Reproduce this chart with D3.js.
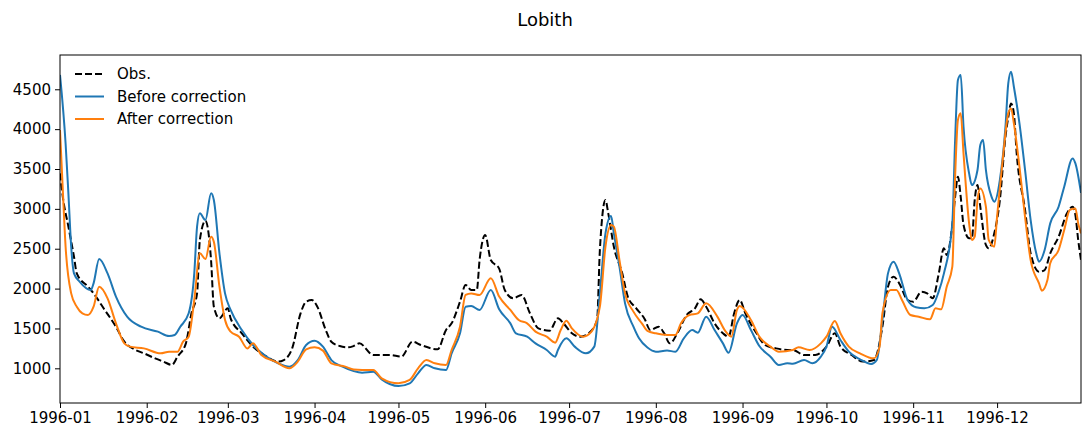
<!DOCTYPE html>
<html>
<head>
<meta charset="utf-8">
<script src="https://cdn.jsdelivr.net/npm/d3@7"></script>
<style>
  html, body { margin: 0; padding: 0; background: #fff; }
  svg { display: block; font-family: "DejaVu Sans", sans-serif; }
</style>
</head>
<body>
<svg id="chart" width="1085" height="430"></svg>
<script>
// Discharge at Lobith, 1996 (m3/s). Day numbers count from 1 January 1996.
const obsDays = [0,1,3,5,6,10,12,16,20,23,27,30,34,37,40,42,45,47,49,50,52,54,55,57,60,61,65,69,73,78,80,83,86,88,90,92,95,97,100,103,105,107,112,118,122,126,129,135,138,140,143,145,147,149,150,152,154,157,159,162,165,168,171,175,178,180,183,186,189,192,193,195,196,198,201,203,206,209,211,214,216,218,221,224,227,229,231,234,237,239,241,243,245,249,252,256,260,262,266,270,274,277,279,283,287,291,294,296,298,300,303,305,308,310,312,314,316,317,319,320,321,322,323,325,326,327,328,329,331,332,334,336,338,339,340,341,342,345,347,350,352,354,357,360,362,363,364,365];
const obsFlow = [3445,3150,2777,2400,2190,2024,1940,1732,1522,1334,1230,1188,1125,1084,1042,1146,1313,1690,1940,2610,2850,2358,1773,1627,1752,1627,1439,1272,1167,1084,1104,1250,1690,1836,1857,1773,1480,1334,1280,1263,1280,1313,1167,1167,1146,1334,1293,1238,1480,1564,1836,2045,1982,1982,2358,2672,2358,2250,1982,1878,1920,1690,1501,1472,1627,1564,1439,1397,1439,1606,2484,3111,2944,2526,2191,1898,1752,1620,1480,1522,1439,1313,1460,1669,1752,1865,1773,1564,1439,1397,1690,1857,1690,1439,1293,1250,1230,1230,1167,1167,1272,1439,1272,1167,1084,1104,1522,2024,2150,2066,1857,1836,1961,1940,1878,2160,2505,2421,2800,3150,3403,3150,2800,2630,2630,3111,3299,3027,2547,2505,2693,3111,3905,4150,4323,4198,3700,2986,2442,2212,2233,2442,2651,2944,3027,2923,2610,2358];

const beforeDays = [0,2,3,4,5,7,11,12,14,17,20,24,29,35,39,41,43,46,48,49,50,52,54,55,57,59,61,65,69,73,78,82,85,88,91,94,97,101,105,108,112,115,121,125,128,131,134,138,140,143,145,147,150,154,157,161,163,167,170,174,177,178,181,184,188,191,193,195,197,198,200,202,205,207,210,213,217,220,223,226,228,231,234,237,239,242,244,247,250,254,257,260,262,266,269,272,274,276,279,282,286,290,292,294,296,298,300,303,306,309,312,314,316,319,320,321,322,323,325,326,328,329,330,331,333,334,336,338,339,340,341,343,345,347,349,350,352,354,357,359,362,363,365];
const beforeFlow = [4680,3820,3195,2525,2190,2087,1982,2066,2370,2190,1900,1648,1522,1460,1405,1418,1522,1690,2190,2776,2944,2860,3195,3111,2442,1940,1732,1480,1293,1167,1063,1021,1104,1293,1347,1272,1104,1021,965,946,958,862,778,812,937,1042,1000,979,1188,1439,1773,1782,1732,1982,1740,1564,1439,1397,1313,1230,1146,1230,1376,1272,1188,1272,1940,2693,2910,2693,2275,1815,1522,1376,1260,1209,1222,1209,1376,1480,1447,1648,1480,1313,1196,1564,1669,1480,1280,1146,1042,1063,1058,1104,1063,1146,1272,1522,1355,1209,1113,1054,1104,1606,2191,2338,2191,1857,1765,1752,1794,1950,2191,2818,3863,4616,4678,4030,3445,3299,3488,3801,3863,3488,3153,3090,3362,4031,4574,4720,4532,4073,3488,2860,2442,2338,2484,2818,3027,3278,3633,3571,3200];

const afterDays = [0,1,2,4,6,8,10,12,14,17,20,23,25,30,36,39,42,44,46,48,50,52,54,55,57,59,61,64,67,69,72,77,82,85,88,91,94,97,102,105,108,112,115,121,125,128,131,134,138,140,143,145,147,150,154,157,161,164,167,170,174,177,179,181,183,187,190,193,195,197,198,200,202,205,208,210,213,217,220,222,225,228,231,235,238,240,242,243,247,250,254,257,262,264,268,272,274,277,279,282,286,291,293,294,297,299,301,304,307,311,313,315,317,319,320,321,322,323,325,326,327,328,329,331,332,334,335,337,339,340,341,343,345,347,350,351,353,354,357,359,361,363,364,365];
const afterFlow = [3990,3236,2525,1940,1773,1690,1669,1773,2024,1878,1564,1313,1272,1250,1188,1209,1209,1334,1397,1857,2442,2370,2651,2588,2024,1606,1460,1397,1250,1313,1167,1084,1000,1084,1238,1263,1222,1063,1021,985,979,979,875,812,854,1000,1104,1063,1042,1230,1522,1920,1940,1920,2129,1900,1732,1606,1564,1460,1397,1322,1480,1598,1501,1397,1460,1773,2526,2797,2777,2358,1940,1711,1564,1470,1439,1418,1418,1564,1669,1690,1815,1648,1460,1397,1732,1782,1606,1397,1272,1209,1230,1263,1230,1313,1397,1594,1439,1272,1188,1125,1272,1690,1982,1982,1857,1669,1648,1614,1752,1740,2024,2275,3403,4114,4198,3696,2818,2610,2651,3111,3257,3027,2610,2526,2902,3613,4198,4260,4073,3529,2900,2358,2066,1974,2108,2317,2484,2735,2986,3006,2818,2693];

const yTicks = [1000,1500,2000,2500,3000,3500,4000,4500];
const seriesNames = ["Obs.", "Before correction", "After correction"];

const W = 1085, H = 430;
const margin = { left: 60, right: 4, top: 55, bottom: 27 };
const plotW = W - margin.left - margin.right;
const plotH = H - margin.top - margin.bottom;

const svg = d3.select("#chart");
const dayToDate = d => new Date(1996, 0, 1 + d);

const x = d3.scaleTime()
  .domain([new Date(1996, 0, 1), new Date(1996, 11, 31)])
  .range([0, plotW]);
const y = d3.scaleLinear().domain([565, 4930]).range([plotH, 0]);

const series = [
  { name: seriesNames[0], days: obsDays, flow: obsFlow, color: "#000000", dash: "7,3" },
  { name: seriesNames[1], days: beforeDays, flow: beforeFlow, color: "#1f77b4", dash: null },
  { name: seriesNames[2], days: afterDays, flow: afterFlow, color: "#ff7f0e", dash: null }
];

// title
svg.append("text")
  .attr("x", 545).attr("y", 26)
  .attr("text-anchor", "middle")
  .attr("font-size", 18)
  .attr("fill", "#000")
  .text("Lobith");

const g = svg.append("g").attr("transform", `translate(${margin.left},${margin.top})`);

g.append("clipPath").attr("id", "plotclip")
  .append("rect").attr("width", plotW).attr("height", plotH);

const line = d3.line()
  .x(p => x(p.date))
  .y(p => y(p.v))
  .curve(d3.curveMonotoneX);

const lines = g.append("g").attr("clip-path", "url(#plotclip)");
series.forEach(s => {
  const pts = s.days.map((d, i) => ({ date: dayToDate(d), v: s.flow[i] }));
  lines.append("path")
    .datum(pts)
    .attr("d", line)
    .attr("fill", "none")
    .attr("stroke", s.color)
    .attr("stroke-width", 2)
    .attr("stroke-linejoin", "round")
    .attr("stroke-dasharray", s.dash);
});

// axes
const xAxis = d3.axisBottom(x)
  .ticks(d3.timeMonth.every(1))
  .tickFormat(d3.timeFormat("%Y-%m"))
  .tickSizeOuter(0)
  .tickSize(5).tickPadding(4);
const yAxis = d3.axisLeft(y)
  .tickValues(yTicks)
  .tickFormat(d3.format("d"))
  .tickSizeOuter(0)
  .tickSize(5).tickPadding(4);

const gx = g.append("g").attr("transform", `translate(0,${plotH})`).call(xAxis);
const gy = g.append("g").call(yAxis);
[gx, gy].forEach(a => {
  a.select(".domain").remove();
  a.selectAll("text").attr("font-size", 15).attr("fill", "#000")
    .attr("font-family", "DejaVu Sans, sans-serif");
  a.selectAll("line").attr("stroke", "#000").attr("stroke-width", 1);
});

// frame
g.append("rect")
  .attr("width", plotW).attr("height", plotH)
  .attr("fill", "none").attr("stroke", "#000").attr("stroke-width", 1);

// legend
const leg = g.append("g").attr("transform", "translate(15,19)");
series.forEach((s, i) => {
  const row = leg.append("g").attr("transform", `translate(0,${i * 22.5})`);
  row.append("line")
    .attr("x1", 0).attr("x2", 29).attr("y1", 0).attr("y2", 0)
    .attr("stroke", s.color).attr("stroke-width", 2)
    .attr("stroke-dasharray", s.dash);
  row.append("text")
    .attr("x", 42).attr("y", 0).attr("dy", "0.35em")
    .attr("font-size", 15).attr("fill", "#000")
    .text(s.name);
});
</script>
</body>
</html>
